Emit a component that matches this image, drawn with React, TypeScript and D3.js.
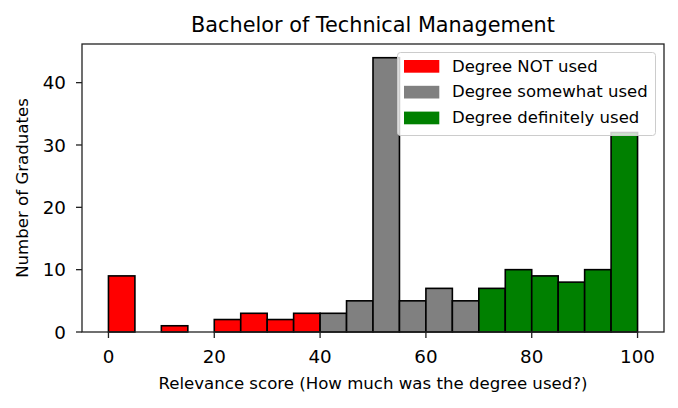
import React from "react";
import * as d3 from "d3";

const binStarts = [0, 5, 10, 15, 20, 25, 30, 35, 40, 45, 50, 55, 60, 65, 70, 75, 80, 85, 90, 95];
const counts = [9, 0, 1, 0, 2, 3, 2, 3, 3, 5, 44, 5, 7, 5, 7, 10, 9, 8, 10, 32];
const groupColors = ["red", "gray", "green"];
const legendLabels = ["Degree NOT used", "Degree somewhat used", "Degree definitely used"];
const xTicks = [0, 20, 40, 60, 80, 100];
const yTicks = [0, 10, 20, 30, 40];
const binWidth = 5;

const W = 678, H = 408;
const M = { left: 82, right: 664, top: 44, bottom: 332 };
const FONT = "DejaVu Sans, sans-serif";

function colorFor(start: number) {
  if (start < 40) return groupColors[0];
  if (start < 70) return groupColors[1];
  return groupColors[2];
}

export default function App() {
  const x = d3.scaleLinear().domain([-5, 105]).range([M.left, M.right]);
  const y = d3.scaleLinear().domain([0, 46.2]).range([M.bottom, M.top]);
  return (
    <svg width={W} height={H} style={{ position: "absolute", left: 0, top: 0 }} fontFamily={FONT}>
      <rect x={0} y={0} width={W} height={H} fill="white" />
      {binStarts.map((s, i) =>
        counts[i] > 0 ? (
          <rect
            key={i}
            x={x(s)}
            y={y(counts[i])}
            width={x(s + binWidth) - x(s)}
            height={y(0) - y(counts[i])}
            fill={colorFor(s)}
            stroke="black"
            strokeWidth={1.6}
          />
        ) : null
      )}
      <rect x={M.left} y={M.top} width={M.right - M.left} height={M.bottom - M.top} fill="none" stroke="#222" strokeWidth={1.3} />
      {xTicks.map((t) => (
        <g key={t}>
          <line x1={x(t)} x2={x(t)} y1={M.bottom} y2={M.bottom + 6} stroke="#222" strokeWidth={1.3} />
          <text x={x(t)} y={362.5} textAnchor="middle" fontSize={18.3}>{t}</text>
        </g>
      ))}
      {yTicks.map((t) => (
        <g key={t}>
          <line x1={M.left - 6} x2={M.left} y1={y(t)} y2={y(t)} stroke="#222" strokeWidth={1.3} />
          <text x={66} y={y(t) + 6.6} textAnchor="end" fontSize={18.3}>{t}</text>
        </g>
      ))}
      <text x={(M.left + M.right) / 2} y={31.5} textAnchor="middle" fontSize={20.8}>Bachelor of Technical Management</text>
      <text x={(M.left + M.right) / 2} y={389} textAnchor="middle" fontSize={16.6}>Relevance score (How much was the degree used?)</text>
      <text transform={`translate(28,${(M.top + M.bottom) / 2}) rotate(-90)`} textAnchor="middle" fontSize={16.6}>Number of Graduates</text>
      <g>
        <rect x={397.5} y={52.5} width={258} height={83} rx={3} fill="white" fillOpacity={0.8} stroke="#cccccc" strokeWidth={1} />
        {legendLabels.map((l, i) => (
          <g key={l}>
            <rect x={404} y={60 + i * 25.8} width={35.3} height={12.7} fill={groupColors[i]} />
            <text x={452} y={71.5 + i * 25.8} fontSize={16.5}>{l}</text>
          </g>
        ))}
      </g>
    </svg>
  );
}
